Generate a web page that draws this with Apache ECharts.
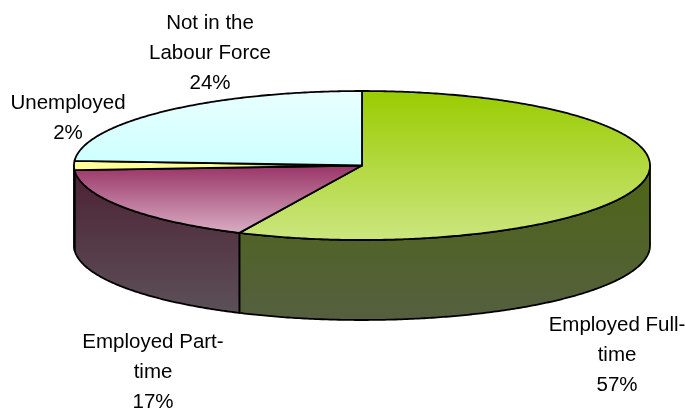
<!DOCTYPE html>
<html><head><meta charset="utf-8">
<style>html,body{margin:0;padding:0;background:#fff}#c{width:685px;height:410px}</style>
<script src="https://cdn.jsdelivr.net/npm/echarts@6/dist/echarts.min.js"></script>
</head><body><div id="c"></div>
<script>
const categories = ['Employed Full-time','Employed Part-time','Unemployed','Not in the Labour Force'];
const values = [57,17,2,24];
const labelLines = [['Employed Full-','time'],['Employed Part-','time'],['Unemployed'],['Not in the','Labour Force']];

const CX=362, CY=165.5, RX=288, RY=74.5, DEPTH=80;
const labelAt=[[617,325],[153,342],[68,103],[210,23]];
const LINE_H=30.3;
const topCols=[['#99cc00','#cce680'],['#993366','#d9aec4'],['#ffff99','#ffff99'],['#eaffff','#ccffff']];
const wallCols=[['#4d6614','#555f40'],['#4d2233','#5c5058'],['#4d4d20','#4d4d20'],['#666','#666']];

const total=values.reduce((a,b)=>a+b,0);
const pt=(a,dy)=>[CX+RX*Math.sin(a),CY+(dy||0)-RY*Math.cos(a)];
function arc(a0,a1,dy){const n=Math.max(2,Math.ceil((a1-a0)/0.01));const o=[];for(let i=0;i<=n;i++)o.push(pt(a0+(a1-a0)*i/n,dy));return o;}
const grad=(c)=>({type:'linear',x:0,y:0,x2:0,y2:1,colorStops:[{offset:0,color:c[0]},{offset:1,color:c[1]}]});
const slices=[];let acc=0;
values.forEach((v,i)=>{const a0=acc/total*2*Math.PI;acc+=v;slices.push([a0,acc/total*2*Math.PI]);});

function renderItem(params,api){
  const i=params.dataIndex,[a0,a1]=slices[i],children=[];
  const wa0=Math.max(a0,Math.PI/2),wa1=Math.min(a1,Math.PI*1.5);
  if(wa1>wa0){
    const t=arc(wa0,wa1,0),b=arc(wa0,wa1,DEPTH).reverse();
    children.push({type:'polygon',shape:{points:t.concat(b)},style:{fill:grad(wallCols[i]),stroke:'#000',lineWidth:1.8,lineJoin:'round'}});
  }
  const pts=[[CX,CY]].concat(arc(a0,a1,0));
  const fill=i===2?{type:'linear',x:0,y:0,x2:1,y2:0,colorStops:[{offset:0,color:'#ffff99'},{offset:0.6,color:'#ffff99'},{offset:0.82,color:'#000'},{offset:1,color:'#000'}]}:grad(topCols[i]);
  children.push({type:'polygon',shape:{points:pts},style:{fill,stroke:'#000',lineWidth:1.8,lineJoin:'round'}});
  const txt=labelLines[i].concat([api.value(0)+'%']);
  txt.forEach((s,k)=>children.push({type:'text',z2:10,style:{text:s,x:labelAt[i][0],y:labelAt[i][1]+k*LINE_H,align:'center',verticalAlign:'middle',fill:'#000',font:'20.5px "Liberation Sans", Arial, sans-serif'}}));
  return {type:'group',children};
}
const chart=echarts.init(document.getElementById('c'),null,{renderer:'canvas'});
chart.setOption({animation:false,backgroundColor:'#fff',
  series:[{type:'custom',coordinateSystem:'none',renderItem,
    data:values.map((v,i)=>({name:categories[i],value:[v]}))}]});
</script></body></html>
